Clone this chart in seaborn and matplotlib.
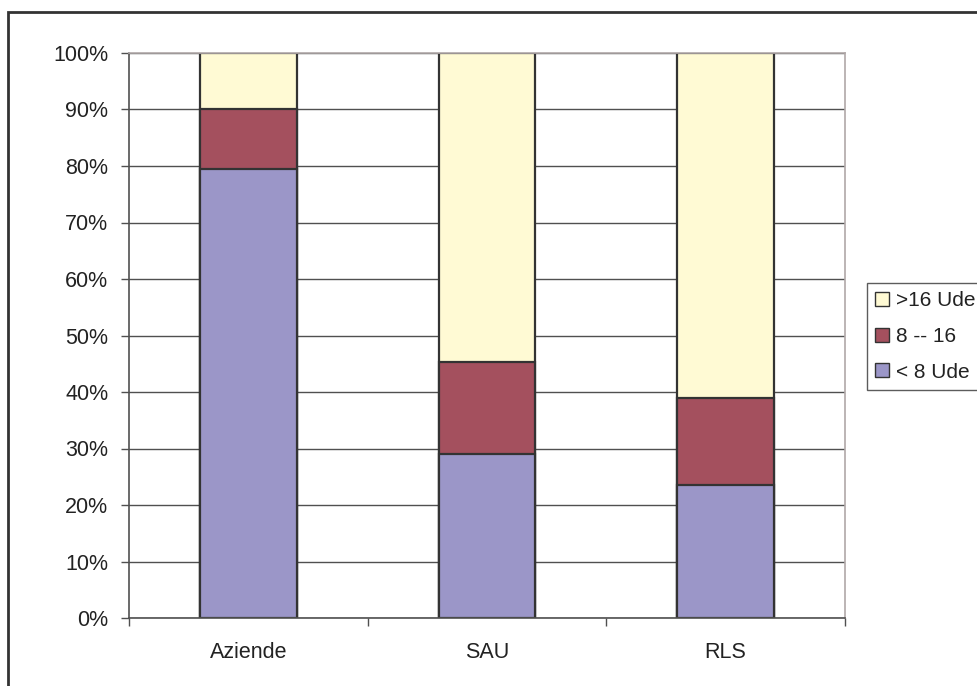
import pandas as pd
import numpy as np
import seaborn as sns
import matplotlib.pyplot as plt
from matplotlib.patches import Patch, Rectangle
from matplotlib.ticker import PercentFormatter

# data (percent shares)
categorie = ["Aziende", "SAU", "RLS"]
meno_8 = [79.5, 29.0, 23.5]
da_8_a_16 = [10.6, 16.3, 15.4]
oltre_16 = [9.9, 54.7, 61.1]
etichette = ["< 8 Ude", "8 -- 16", ">16 Ude"]
colori = ["#9b96c8", "#a4505e", "#fffad4"]

sns.set_style("white")
plt.rcParams['font.family'] = ['Liberation Sans', 'DejaVu Sans']

df = pd.DataFrame({"cat": categorie, "c1": meno_8, "c2": da_8_a_16, "c3": oltre_16})
df["cum1"] = df["c1"]
df["cum2"] = df["c1"] + df["c2"]
df["cum3"] = df["cum2"] + df["c3"]

fig = plt.figure(figsize=(9.78, 6.86), dpi=100)
ax = fig.add_axes([129/978, 1-618/686, (845-129)/978, (618-53)/686])

# grid first, below the bars
ax.set_axisbelow(True)
ax.yaxis.grid(True, color="#505050", lw=1)

# stacked bars: draw cumulative totals from top layer down
for col, c in zip(["cum3", "cum2", "cum1"], colori[::-1]):
    sns.barplot(data=df, x="cat", y=col, color=c, width=0.405,
                edgecolor="#333333", linewidth=1.6, saturation=1, ax=ax)

ax.set_ylim(0, 100)
ax.set_xlim(-0.5, 2.5)
ax.set_yticks(np.arange(0, 101, 10))
ax.yaxis.set_major_formatter(PercentFormatter(decimals=0))
ax.set_xlabel("")
ax.set_ylabel("")
ax.tick_params(axis="y", direction="out", length=6, width=1, color="#505050",
               labelsize=15.5, labelcolor="#222222", pad=9, left=True)
ax.tick_params(axis="x", length=0, labelsize=15.5, labelcolor="#222222", pad=17)
ax.set_xticks([-0.5, 0.5, 1.5, 2.5], minor=True)
ax.tick_params(axis="x", which="minor", direction="out", length=6, width=1,
               color="#505050", bottom=True)

for s in ["left", "bottom"]:
    ax.spines[s].set_color("#505050")
    ax.spines[s].set_linewidth(1.2)
for s in ["top", "right"]:
    ax.spines[s].set_color("#b0a8a8")
    ax.spines[s].set_linewidth(1.2)

handles = [Patch(facecolor=c, edgecolor="#333333", lw=1) for c in colori[::-1]]
leg = fig.legend(handles, etichette[::-1], loc="upper left",
                 bbox_to_anchor=(867/978, 1-283/686), fontsize=15,
                 frameon=True, fancybox=False, handlelength=0.65,
                 handleheight=0.65, handletextpad=0.35, labelspacing=0.8,
                 borderpad=0.4, borderaxespad=0)
leg.get_frame().set_edgecolor("#333333")
leg.get_frame().set_linewidth(1)
for t in leg.get_texts():
    t.set_color("#222222")

# outer chart border
fig.patches.append(Rectangle((8/978, -0.1), 1.2, 1-12/686+0.1, fill=False,
                             edgecolor="#333333", lw=2, transform=fig.transFigure))

fig.savefig("out.png", dpi=100)
